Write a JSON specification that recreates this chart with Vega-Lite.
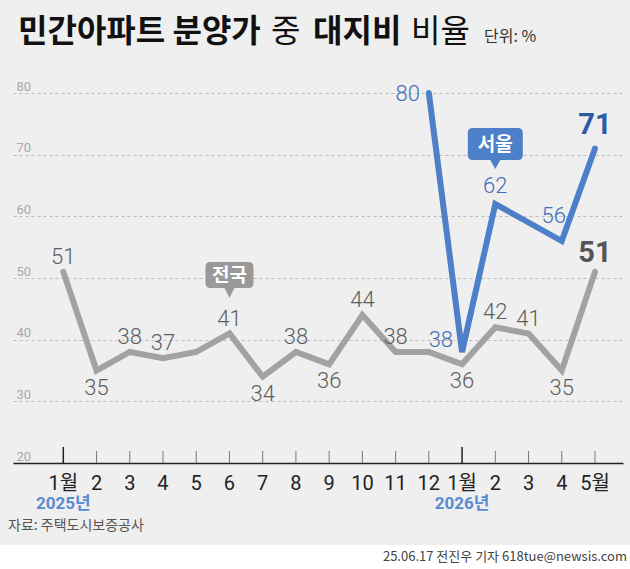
{
  "$schema": "https://vega.github.io/schema/vega-lite/v6.json",
  "width": 610,
  "height": 370,
  "autosize": {"type": "none"},
  "padding": {"left": 13, "top": 93, "right": 7, "bottom": 106},
  "background": "#efefef",
  "config": {
    "view": {"stroke": null},
    "text": {"font": "Roboto, Noto Sans CJK KR, sans-serif"},
    "axisX": {
      "grid": false, "ticks": false, "tickSize": 0, "labels": false,
      "domainColor": "#222222", "domainWidth": 1.5
    },
    "axisY": {
      "domain": false, "ticks": false, "tickSize": 0,
      "labelAlign": "left", "labelBaseline": "alphabetic",
      "labelPadding": -3, "labelOffset": -3,
      "labelFont": "Roboto, sans-serif",
      "labelFontSize": 13, "labelColor": "#a8a8a8",
      "labelOverlap": false, "labelFlush": false,
      "gridColor": "#bcbcbc", "gridDash": [3, 3], "gridWidth": 1
    }
  },
  "data": {
    "values": [
      {"i": 0, "month": "2025-01", "region": "전국", "value": 51},
      {"i": 1, "month": "2025-02", "region": "전국", "value": 35},
      {"i": 2, "month": "2025-03", "region": "전국", "value": 38},
      {"i": 3, "month": "2025-04", "region": "전국", "value": 37},
      {"i": 4, "month": "2025-05", "region": "전국", "value": 38},
      {"i": 5, "month": "2025-06", "region": "전국", "value": 41},
      {"i": 6, "month": "2025-07", "region": "전국", "value": 34},
      {"i": 7, "month": "2025-08", "region": "전국", "value": 38},
      {"i": 8, "month": "2025-09", "region": "전국", "value": 36},
      {"i": 9, "month": "2025-10", "region": "전국", "value": 44},
      {"i": 10, "month": "2025-11", "region": "전국", "value": 38},
      {"i": 11, "month": "2025-12", "region": "전국", "value": 38},
      {"i": 12, "month": "2026-01", "region": "전국", "value": 36},
      {"i": 13, "month": "2026-02", "region": "전국", "value": 42},
      {"i": 14, "month": "2026-03", "region": "전국", "value": 41},
      {"i": 15, "month": "2026-04", "region": "전국", "value": 35},
      {"i": 16, "month": "2026-05", "region": "전국", "value": 51},
      {"i": 11, "month": "2025-12", "region": "서울", "value": 80},
      {"i": 12, "month": "2026-01", "region": "서울", "value": 38},
      {"i": 13, "month": "2026-02", "region": "서울", "value": 62},
      {"i": 14, "month": "2026-03", "region": "서울", "value": 59},
      {"i": 15, "month": "2026-04", "region": "서울", "value": 56},
      {"i": 16, "month": "2026-05", "region": "서울", "value": 71}
    ]
  },
  "layer": [
    {
      "transform": [{"filter": "datum.region === '전국'"}],
      "mark": {"type": "line", "color": "#a2a2a2", "strokeWidth": 6, "strokeCap": "round", "strokeJoin": "miter"},
      "encoding": {
        "x": {
          "field": "i", "type": "quantitative",
          "scale": {"domain": [-1.514, 16.843], "nice": false, "zero": false},
          "axis": {"title": null}
        },
        "y": {
          "field": "value", "type": "quantitative",
          "scale": {"domain": [20, 80], "nice": false, "zero": false},
          "axis": {"title": null, "values": [20, 30, 40, 50, 60, 70, 80]}
        }
      }
    },
    {
      "data": {"values": [{}]},
      "mark": {"type": "rect", "color": "#ffffff"},
      "encoding": {
        "x": {"datum": -3, "type": "quantitative"},
        "x2": {"datum": 18},
        "y": {"datum": 6.7, "type": "quantitative"},
        "y2": {"datum": -5}
      }
    },
    {
      "transform": [{"filter": "datum.region === '전국' && (datum.i == 0 || datum.i == 12)"}],
      "mark": {"type": "rule", "color": "#222222", "strokeWidth": 1.5},
      "encoding": {
        "x": {"field": "i", "type": "quantitative"},
        "y": {"datum": 20, "type": "quantitative"},
        "y2": {"datum": 22.6}
      }
    },
    {
      "transform": [{"filter": "datum.region === '전국' && datum.i != 0 && datum.i != 12"}],
      "mark": {"type": "rule", "color": "#777777", "strokeWidth": 1},
      "encoding": {
        "x": {"field": "i", "type": "quantitative"},
        "y": {"datum": 20, "type": "quantitative"},
        "y2": {"datum": 21.95}
      }
    },
    {
      "transform": [
        {"filter": "datum.region === '전국'"},
        {"calculate": "toNumber(substring(datum.month, 5, 7))", "as": "m"},
        {"calculate": "datum.m == 1 || datum.i == 16 ? datum.m + '월' : '' + datum.m", "as": "month_label"}
      ],
      "mark": {"type": "text", "baseline": "middle", "dy": 21, "fontSize": 20, "color": "#222222"},
      "encoding": {
        "x": {"field": "i", "type": "quantitative"},
        "y": {"datum": 20, "type": "quantitative"},
        "text": {"field": "month_label"}
      }
    },
    {
      "transform": [{"filter": "datum.region === '서울'"}],
      "mark": {"type": "line", "color": "#4d80c8", "strokeWidth": 6, "strokeCap": "round", "strokeJoin": "miter"},
      "encoding": {
        "x": {"field": "i", "type": "quantitative"},
        "y": {"field": "value", "type": "quantitative"}
      }
    },
    {
      "transform": [{"filter": "datum.region === '전국' && indexof([0, 2, 3, 5, 7, 9, 10, 13, 14], datum.i) >= 0"}],
      "mark": {"type": "text", "baseline": "middle", "dy": -15, "fontSize": 22, "fontWeight": 300, "color": "#5e5e5e"},
      "encoding": {
        "x": {"field": "i", "type": "quantitative"},
        "y": {"field": "value", "type": "quantitative"},
        "text": {"field": "value", "type": "quantitative"}
      }
    },
    {
      "transform": [{"filter": "datum.region === '전국' && indexof([1, 6, 8, 12, 15], datum.i) >= 0"}],
      "mark": {"type": "text", "baseline": "middle", "dy": 17, "fontSize": 22, "fontWeight": 300, "color": "#5e5e5e"},
      "encoding": {
        "x": {"field": "i", "type": "quantitative"},
        "y": {"field": "value", "type": "quantitative"},
        "text": {"field": "value", "type": "quantitative"}
      }
    },
    {
      "transform": [{"filter": "datum.region === '전국' && datum.i == 16"}],
      "mark": {"type": "text", "baseline": "middle", "dy": -19, "fontSize": 29, "fontWeight": "bold", "color": "#555555"},
      "encoding": {
        "x": {"field": "i", "type": "quantitative"},
        "y": {"field": "value", "type": "quantitative"},
        "text": {"field": "value", "type": "quantitative"}
      }
    },
    {
      "transform": [{"filter": "datum.region === '서울' && datum.i == 11"}],
      "mark": {"type": "text", "baseline": "middle", "align": "right", "dx": -9, "dy": 1, "fontSize": 22, "fontWeight": 300, "color": "#3f70b9"},
      "encoding": {
        "x": {"field": "i", "type": "quantitative"},
        "y": {"field": "value", "type": "quantitative"},
        "text": {"field": "value", "type": "quantitative"}
      }
    },
    {
      "transform": [{"filter": "datum.region === '서울' && datum.i == 12"}],
      "mark": {"type": "text", "baseline": "middle", "align": "right", "dx": -9, "dy": -12, "fontSize": 22, "fontWeight": 300, "color": "#3f70b9"},
      "encoding": {
        "x": {"field": "i", "type": "quantitative"},
        "y": {"field": "value", "type": "quantitative"},
        "text": {"field": "value", "type": "quantitative"}
      }
    },
    {
      "transform": [{"filter": "datum.region === '서울' && datum.i == 13"}],
      "mark": {"type": "text", "baseline": "middle", "dy": -18, "fontSize": 22, "fontWeight": 300, "color": "#3f70b9"},
      "encoding": {
        "x": {"field": "i", "type": "quantitative"},
        "y": {"field": "value", "type": "quantitative"},
        "text": {"field": "value", "type": "quantitative"}
      }
    },
    {
      "transform": [{"filter": "datum.region === '서울' && datum.i == 15"}],
      "mark": {"type": "text", "baseline": "middle", "dx": -8, "dy": -25, "fontSize": 22, "fontWeight": 300, "color": "#3f70b9"},
      "encoding": {
        "x": {"field": "i", "type": "quantitative"},
        "y": {"field": "value", "type": "quantitative"},
        "text": {"field": "value", "type": "quantitative"}
      }
    },
    {
      "transform": [{"filter": "datum.region === '서울' && datum.i == 16"}],
      "mark": {"type": "text", "baseline": "middle", "dy": -24, "fontSize": 29, "fontWeight": "bold", "color": "#2c5ca8"},
      "encoding": {
        "x": {"field": "i", "type": "quantitative"},
        "y": {"field": "value", "type": "quantitative"},
        "text": {"field": "value", "type": "quantitative"}
      }
    },
    {
      "transform": [{"filter": "datum.region === '전국' && datum.i == 5"}],
      "mark": {
        "type": "point", "filled": true, "opacity": 1, "strokeWidth": 0, "color": "#999999",
        "size": 3136, "yOffset": -53.5,
        "shape": "M -0.679 -0.643 L 0.679 -0.643 Q 0.857 -0.643 0.857 -0.464 L 0.857 0.107 Q 0.857 0.286 0.679 0.286 L 0.179 0.286 L 0 0.643 L -0.179 0.286 L -0.679 0.286 Q -0.857 0.286 -0.857 0.107 L -0.857 -0.464 Q -0.857 -0.643 -0.679 -0.643 Z"
      },
      "encoding": {
        "x": {"field": "i", "type": "quantitative"},
        "y": {"field": "value", "type": "quantitative"}
      }
    },
    {
      "transform": [{"filter": "datum.region === '전국' && datum.i == 5"}],
      "mark": {"type": "text", "baseline": "middle", "dy": -58, "font": "Noto Sans CJK KR", "fontSize": 19, "fontWeight": "bold", "color": "#ffffff"},
      "encoding": {
        "x": {"field": "i", "type": "quantitative"},
        "y": {"field": "value", "type": "quantitative"},
        "text": {"field": "region"}
      }
    },
    {
      "transform": [{"filter": "datum.region === '서울' && datum.i == 13"}],
      "mark": {
        "type": "point", "filled": true, "opacity": 1, "strokeWidth": 0, "color": "#4d80c8",
        "size": 3136, "yOffset": -55.5,
        "shape": "M -0.804 -0.732 L 0.804 -0.732 Q 0.982 -0.732 0.982 -0.554 L 0.982 0.232 Q 0.982 0.411 0.804 0.411 L 0.179 0.411 L 0 0.732 L -0.179 0.411 L -0.804 0.411 Q -0.982 0.411 -0.982 0.232 L -0.982 -0.554 Q -0.982 -0.732 -0.804 -0.732 Z"
      },
      "encoding": {
        "x": {"field": "i", "type": "quantitative"},
        "y": {"field": "value", "type": "quantitative"}
      }
    },
    {
      "transform": [{"filter": "datum.region === '서울' && datum.i == 13"}],
      "mark": {"type": "text", "baseline": "middle", "dy": -59, "font": "Noto Sans CJK KR", "fontSize": 19, "fontWeight": "bold", "color": "#ffffff"},
      "encoding": {
        "x": {"field": "i", "type": "quantitative"},
        "y": {"field": "value", "type": "quantitative"},
        "text": {"field": "region"}
      }
    },
    {
      "transform": [
        {"filter": "datum.region === '전국' && (datum.i == 0 || datum.i == 12)"},
        {"calculate": "substring(datum.month, 0, 4) + '년'", "as": "year"}
      ],
      "mark": {"type": "text", "baseline": "middle", "dy": 41, "fontSize": 17, "fontWeight": "bold", "color": "#5b8bd2"},
      "encoding": {
        "x": {"field": "i", "type": "quantitative"},
        "y": {"datum": 20, "type": "quantitative"},
        "text": {"field": "year"}
      }
    },
    {
      "data": {"values": [{}]},
      "mark": {"type": "text", "text": "민간아파트 분양가", "align": "left", "baseline": "alphabetic", "font": "Noto Sans CJK KR", "fontSize": 32, "fontWeight": "bold", "color": "#111111"},
      "encoding": {
        "x": {"datum": -1.3635, "type": "quantitative"},
        "y": {"datum": 88.27, "type": "quantitative"}
      }
    },
    {
      "data": {"values": [{}]},
      "mark": {"type": "text", "text": "중", "align": "left", "baseline": "alphabetic", "font": "Noto Sans CJK KR", "fontSize": 32, "fontWeight": "normal", "color": "#111111"},
      "encoding": {
        "x": {"datum": 6.25, "type": "quantitative"},
        "y": {"datum": 88.27, "type": "quantitative"}
      }
    },
    {
      "data": {"values": [{}]},
      "mark": {"type": "text", "text": "대지비", "align": "left", "baseline": "alphabetic", "font": "Noto Sans CJK KR", "fontSize": 32, "fontWeight": "bold", "color": "#111111"},
      "encoding": {
        "x": {"datum": 7.514, "type": "quantitative"},
        "y": {"datum": 88.27, "type": "quantitative"}
      }
    },
    {
      "data": {"values": [{}]},
      "mark": {"type": "text", "text": "비율", "align": "left", "baseline": "alphabetic", "font": "Noto Sans CJK KR", "fontSize": 32, "fontWeight": "normal", "color": "#111111"},
      "encoding": {
        "x": {"datum": 10.465, "type": "quantitative"},
        "y": {"datum": 88.27, "type": "quantitative"}
      }
    },
    {
      "data": {"values": [{}]},
      "mark": {"type": "text", "text": "단위: %", "align": "left", "baseline": "alphabetic", "font": "Noto Sans CJK KR", "fontSize": 16, "color": "#333333"},
      "encoding": {
        "x": {"datum": 12.66, "type": "quantitative"},
        "y": {"datum": 88.27, "type": "quantitative"}
      }
    },
    {
      "data": {"values": [{}]},
      "mark": {"type": "text", "text": "자료: 주택도시보증공사", "align": "left", "baseline": "middle", "font": "Noto Sans CJK KR", "fontSize": 14, "color": "#555555"},
      "encoding": {
        "x": {"datum": -1.664, "type": "quantitative"},
        "y": {"datum": 9.8, "type": "quantitative"}
      }
    },
    {
      "data": {"values": [{}]},
      "mark": {"type": "text", "text": "25.06.17 전진우 기자 618tue@newsis.com", "align": "right", "baseline": "middle", "font": "Noto Sans CJK KR", "fontSize": 13, "color": "#444444"},
      "encoding": {
        "x": {"datum": 16.963, "type": "quantitative"},
        "y": {"datum": 4.68, "type": "quantitative"}
      }
    }
  ]
}
